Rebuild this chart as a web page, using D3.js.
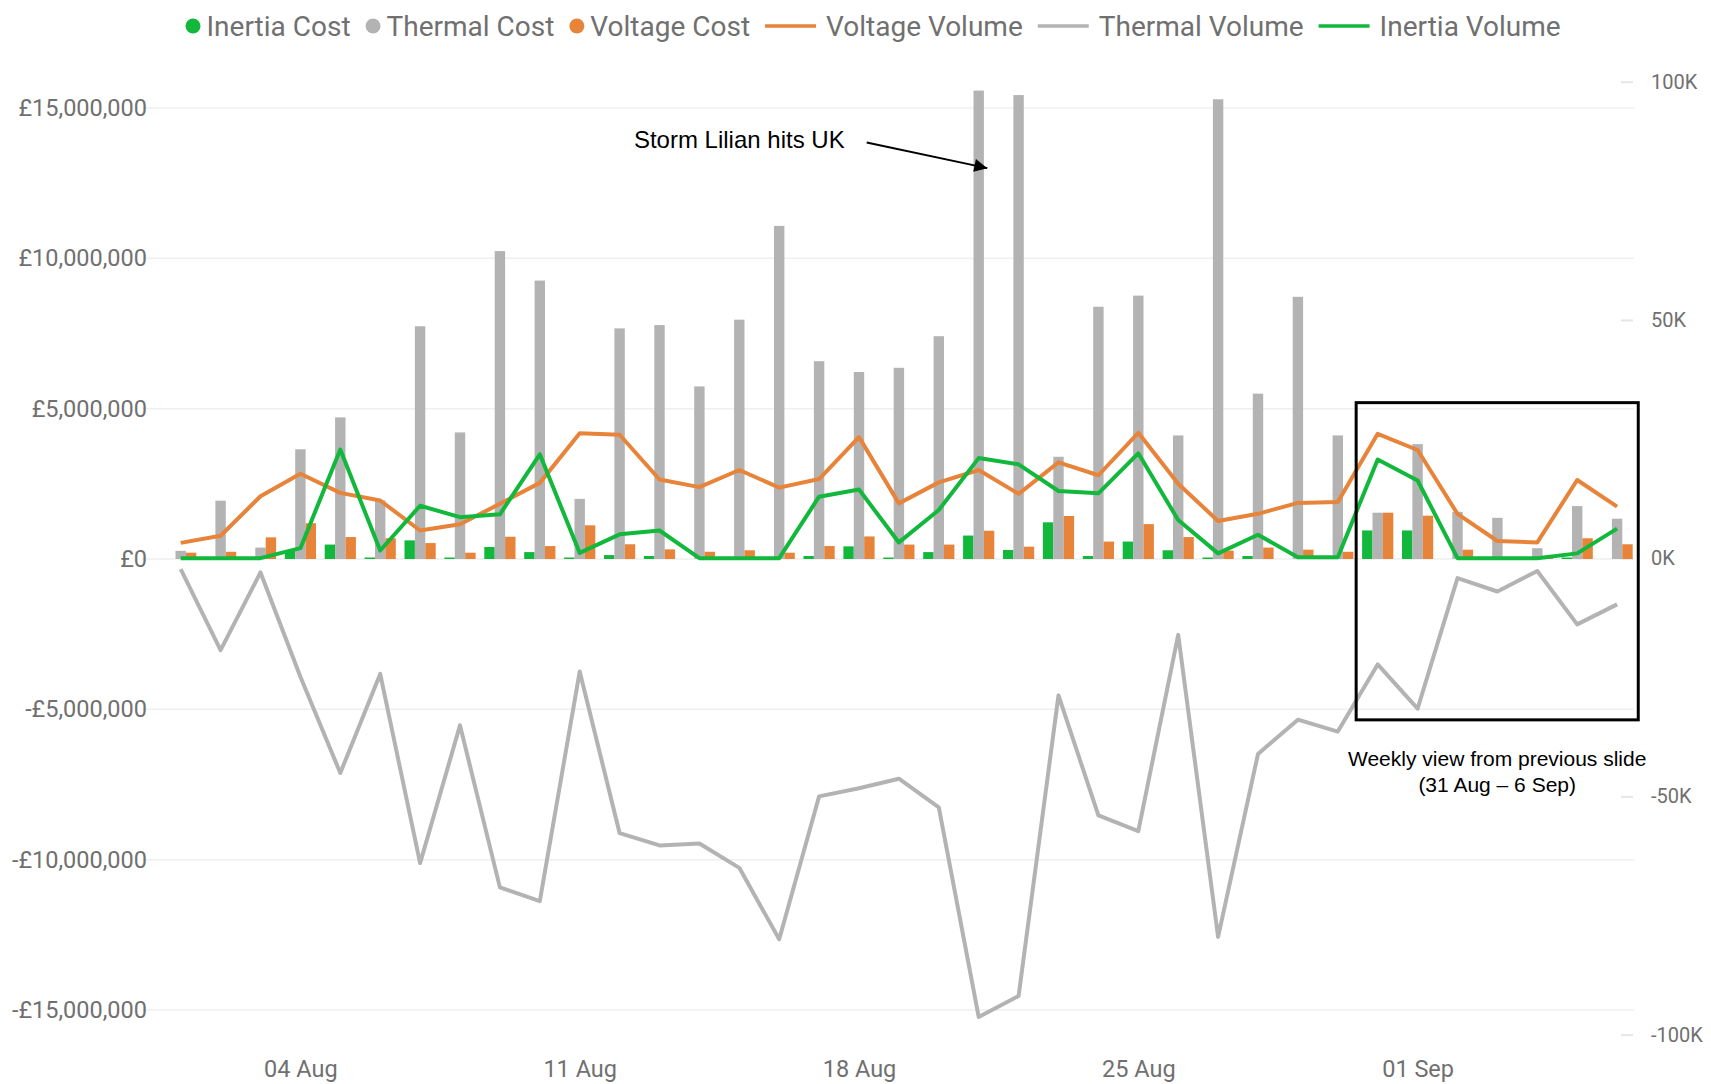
<!DOCTYPE html>
<html><head><meta charset="utf-8">
<script src="https://cdn.jsdelivr.net/npm/d3@7"></script>
<style>body{margin:0;background:#fff}svg{display:block}</style>
</head><body>
<svg id="chart" width="1711" height="1084"></svg>
<script>
// ---------------- DATA ----------------
const dates = ["2024-08-01","2024-08-02","2024-08-03","2024-08-04","2024-08-05","2024-08-06","2024-08-07",
  "2024-08-08","2024-08-09","2024-08-10","2024-08-11","2024-08-12","2024-08-13","2024-08-14","2024-08-15",
  "2024-08-16","2024-08-17","2024-08-18","2024-08-19","2024-08-20","2024-08-21","2024-08-22","2024-08-23",
  "2024-08-24","2024-08-25","2024-08-26","2024-08-27","2024-08-28","2024-08-29","2024-08-30","2024-08-31",
  "2024-09-01","2024-09-02","2024-09-03","2024-09-04","2024-09-05","2024-09-06"];

// Costs in £ millions
const inertiaCost = [0,0,0,0.30,0.48,0.05,0.62,0.05,0.40,0.23,0.05,0.13,0.10,0,0,0,0.10,0.42,0.05,0.23,0.78,0.30,1.22,0.10,0.58,0.29,0.05,0.10,0,0,0.95,0.95,0,0,0,0.05,0];
const thermalCost = [0.27,1.94,0.38,3.65,4.71,1.95,7.74,4.21,10.24,9.26,2.00,7.67,7.78,5.74,7.96,11.08,6.58,6.22,6.36,7.41,15.58,15.43,3.40,8.39,8.76,4.11,15.29,5.50,8.72,4.11,1.54,3.82,1.57,1.37,0.36,1.76,1.34];
const voltageCost = [0.21,0.24,0.72,1.19,0.73,0.69,0.53,0.21,0.74,0.43,1.12,0.49,0.32,0.24,0.29,0.21,0.43,0.75,0.48,0.48,0.94,0.41,1.43,0.58,1.16,0.73,0.28,0.38,0.31,0.24,1.54,1.44,0.31,0.05,0.08,0.69,0.49];

// Volumes in thousands
const voltageVolume = [3.2,4.7,13.0,17.7,13.7,12.1,5.8,7.1,11.4,15.8,26.2,25.9,16.5,14.9,18.5,14.8,16.6,25.4,11.5,15.9,18.5,13.5,20.1,17.4,26.3,15.6,7.8,9.3,11.6,11.8,26.1,22.7,9.3,3.6,3.3,16.4,10.8];
const thermalVolume = [-2.3,-19.3,-3.0,-24.9,-45.1,-24.3,-64.0,-35.1,-69.1,-72.0,-23.8,-57.7,-60.3,-59.9,-65.0,-80.0,-50.0,-48.3,-46.3,-52.3,-96.3,-91.9,-28.8,-54.0,-57.3,-16.1,-79.5,-41.1,-33.9,-36.4,-22.3,-31.6,-4.2,-7.0,-2.7,-13.9,-9.7];
const inertiaVolume = [0,0,0,2.1,22.8,1.6,11.0,8.6,9.2,21.8,1.1,5.0,5.8,0,0,0,12.9,14.4,3.3,10.1,21.0,19.7,14.1,13.6,22.0,8.0,1.0,4.9,0.2,0.2,20.7,16.3,0,0,0,1.0,6.2];

const xTickDates = ["2024-08-04","2024-08-11","2024-08-18","2024-08-25","2024-09-01"];
const xTickLabels = ["04 Aug","11 Aug","18 Aug","25 Aug","01 Sep"];
const leftTicks = [-15e6,-10e6,-5e6,0,5e6,10e6,15e6];
const leftTickLabels = ["-£15,000,000","-£10,000,000","-£5,000,000","£0","£5,000,000","£10,000,000","£15,000,000"];
const rightTicks = [-100000,-50000,0,50000,100000];
const rightTickLabels = ["-100K","-50K","0K","50K","100K"];

const legendItems = [
  {name:"Inertia Cost", type:"dot", color:"#12B83B"},
  {name:"Thermal Cost", type:"dot", color:"#B3B3B3"},
  {name:"Voltage Cost", type:"dot", color:"#E8833A"},
  {name:"Voltage Volume", type:"line", color:"#E8833A"},
  {name:"Thermal Volume", type:"line", color:"#B3B3B3"},
  {name:"Inertia Volume", type:"line", color:"#12B83B"}
];

// ---------------- CHART ----------------
const parse = d3.timeParse("%Y-%m-%d");
const D = dates.map(parse);
const GREEN = "#12B83B", GRAY = "#B3B3B3", ORANGE = "#E8833A";
const svg = d3.select("#chart");
const font = "Roboto, 'Segoe UI', sans-serif";
const axisColor = "#707070";

const x = d3.scaleTime().domain([D[0], D[D.length-1]]).range([180.7, 1617.1]);
const yL = d3.scaleLinear().domain([-15e6, 15e6]).range([1010, 108]);
const yR = d3.scaleLinear().domain([-100000, 100000]).range([1034.6, 81.7]);

// gridlines
svg.append("g").selectAll("line").data(leftTicks).join("line")
  .attr("x1", 143).attr("x2", 1634)
  .attr("y1", d => yL(d)).attr("y2", d => yL(d))
  .attr("stroke", "#EFEFEF").attr("stroke-width", 1.5);

// left axis
const gL = svg.append("g").attr("transform", "translate(147,0)")
  .call(d3.axisLeft(yL).tickValues(leftTicks).tickFormat((d,i) => leftTickLabels[i]).tickSize(0).tickPadding(0));
gL.select(".domain").remove();
gL.selectAll("text").attr("font-family", font).attr("font-size", 23.5).attr("fill", axisColor);

// right axis
const gR = svg.append("g").attr("transform", "translate(1621,0)")
  .call(d3.axisRight(yR).tickValues(rightTicks).tickFormat((d,i) => rightTickLabels[i]).tickSize(12).tickPadding(18));
gR.select(".domain").remove();
gR.selectAll("line").attr("stroke", "#E6E6E6").attr("stroke-width", 2);
gR.selectAll("text").attr("font-family", font).attr("font-size", 20).attr("fill", axisColor);

// bottom axis
const gX = svg.append("g").attr("transform", "translate(0,1069)")
  .call(d3.axisBottom(x).tickValues(xTickDates.map(parse)).tickFormat((d,i) => xTickLabels[i]).tickSize(0).tickPadding(0));
gX.select(".domain").remove();
gX.selectAll("text").attr("dy", "0.35em").attr("font-family", font).attr("font-size", 23.5).attr("fill", axisColor);

// bars
const bw = 10.4;
const bars = svg.append("g");
const series = [
  {vals: inertiaCost, color: GREEN, off: -1.5},
  {vals: thermalCost, color: GRAY, off: -0.5},
  {vals: voltageCost, color: ORANGE, off: 0.5}
];
series.forEach(s => {
  bars.append("g").selectAll("rect").data(s.vals).join("rect")
    .attr("x", (v,i) => x(D[i]) + s.off * bw)
    .attr("width", bw)
    .attr("y", v => yL(v * 1e6))
    .attr("height", v => yL(0) - yL(v * 1e6))
    .attr("fill", s.color);
});

// lines
const line = d3.line().x((v,i) => x(D[i])).y(v => yR(v * 1000));
[[thermalVolume, GRAY],[voltageVolume, ORANGE],[inertiaVolume, GREEN]].forEach(([vals, c]) => {
  svg.append("path").datum(vals).attr("d", line)
    .attr("fill", "none").attr("stroke", c).attr("stroke-width", 4)
    .attr("stroke-linejoin", "round");
});

// legend
const leg = svg.append("g").attr("transform", "translate(0,26)");
let lx = 185.5;
legendItems.forEach(it => {
  if (it.type === "dot") {
    leg.append("circle").attr("cx", lx + 7.5).attr("cy", 0).attr("r", 7.5).attr("fill", it.color);
    lx += 21;
  } else {
    leg.append("line").attr("x1", lx).attr("x2", lx + 51).attr("y1", 0).attr("y2", 0)
      .attr("stroke", it.color).attr("stroke-width", 3.5);
    lx += 61;
  }
  const t = leg.append("text").attr("x", lx).attr("y", 0).attr("dy", "0.35em")
    .attr("font-family", font).attr("font-size", 28).attr("fill", axisColor).text(it.name);
  lx += t.node().getComputedTextLength() + 15;
});

// annotations
const ann = svg.append("g").attr("font-family", "'Liberation Sans', Arial, sans-serif").attr("fill", "#000");
svg.append("defs").append("marker").attr("id", "ah").attr("viewBox", "0 0 10 10")
  .attr("refX", 10).attr("refY", 5).attr("markerWidth", 17).attr("markerHeight", 13)
  .attr("markerUnits", "userSpaceOnUse").attr("orient", "auto")
  .append("path").attr("d", "M0,0 L10,5 L0,10 z").attr("fill", "#000");

const stormIdx = 20;
ann.append("text").attr("x", x(D[14])).attr("y", yL(13.95e6)).attr("dy", "0.35em")
  .attr("text-anchor", "middle").attr("font-size", 24).text("Storm Lilian hits UK");
ann.append("line")
  .attr("x1", x(D[17]) + 7.7).attr("y1", yL(13.85e6))
  .attr("x2", x(D[stormIdx]) + 8.6).attr("y2", yL(13.0e6))
  .attr("stroke", "#000").attr("stroke-width", 2).attr("marker-end", "url(#ah)");

const step = x(D[1]) - x(D[0]);
const bx0 = x(D[30]) - 0.54 * step, bx1 = x(D[36]) + 0.53 * step;
ann.append("rect").attr("x", bx0).attr("y", yL(5.2e6)).attr("width", bx1 - bx0)
  .attr("height", yL(-5.35e6) - yL(5.2e6)).attr("fill", "none").attr("stroke", "#000").attr("stroke-width", 3);
const cx = (bx0 + bx1) / 2;
ann.append("text").attr("x", cx).attr("y", 759).attr("dy", "0.35em").attr("text-anchor", "middle")
  .attr("font-size", 21).text("Weekly view from previous slide");
ann.append("text").attr("x", cx).attr("y", 785).attr("dy", "0.35em").attr("text-anchor", "middle")
  .attr("font-size", 21).text("(31 Aug \u2013 6 Sep)");
</script>
</body></html>
